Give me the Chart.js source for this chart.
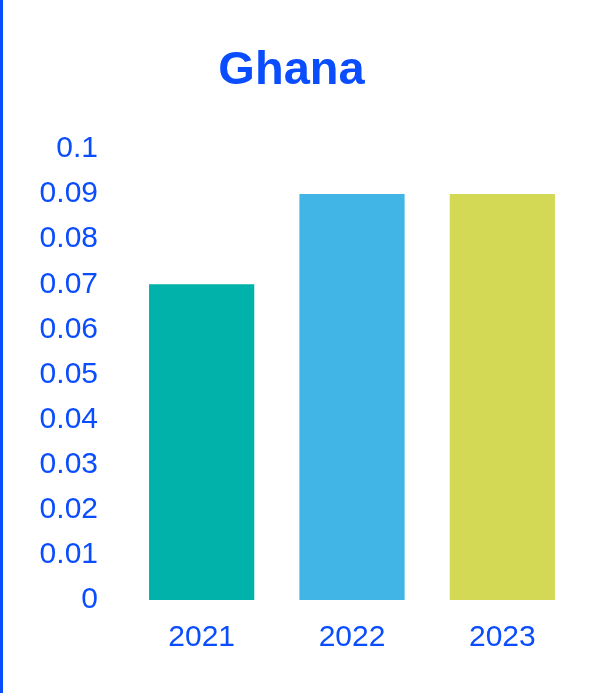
<!DOCTYPE html>
<html>
<head>
<meta charset="utf-8">
<script src="https://cdn.jsdelivr.net/npm/chart.js@4"></script>
<style>
  html, body { margin: 0; padding: 0; background: #fff; }
  #wrap { position: absolute; left: 0; top: 0; width: 580px; height: 693px; border-left: 3px solid #0a4dff; }
</style>
</head>
<body>
<div id="wrap"><canvas id="chart" width="580" height="693"></canvas></div>
<script>
// chart data
const years = ['2021', '2022', '2023'];
const values = [0.07, 0.09, 0.09];
const barColors = ['#00b2a9', '#41b6e6', '#d4d955'];
const yTicks = [0, 0.01, 0.02, 0.03, 0.04, 0.05, 0.06, 0.07, 0.08, 0.09, 0.1];
const yTickLabels = ['0', '0.01', '0.02', '0.03', '0.04', '0.05', '0.06', '0.07', '0.08', '0.09', '0.1'];

const blue = '#0a4dff';
Chart.defaults.font.family = '"Liberation Sans", Arial, sans-serif';
Chart.defaults.color = blue;

const ctx = document.getElementById('chart').getContext('2d');
new Chart(ctx, {
  type: 'bar',
  data: {
    labels: years,
    datasets: [{
      data: values,
      backgroundColor: barColors,
      barPercentage: 0.7,
      categoryPercentage: 1
    }]
  },
  options: {
    responsive: false,
    animation: false,
    layout: { padding: { top: 43, right: 5.5, left: 2.5, bottom: 17 } },
    plugins: {
      legend: { display: false },
      tooltip: { enabled: false },
      title: {
        display: true,
        text: 'Ghana',
        color: blue,
        font: { size: 47, weight: 'bold' },
        padding: { top: 0, bottom: 49.6 }
      }
    },
    scales: {
      x: {
        grid: { display: false, drawTicks: false },
        border: { display: false },
        ticks: { font: { size: 30 }, padding: 20 }
      },
      y: {
        min: 0,
        max: 0.1,
        grid: { display: false, drawTicks: false },
        border: { display: false },
        afterBuildTicks: (axis) => { axis.ticks = yTicks.map(v => ({ value: v })); },
        afterFit: (axis) => { axis.width = 121; },
        ticks: {
          font: { size: 30 },
          padding: 28.5,
          callback: (v, i) => yTickLabels[i]
        }
      }
    }
  }
});
</script>
</body>
</html>
